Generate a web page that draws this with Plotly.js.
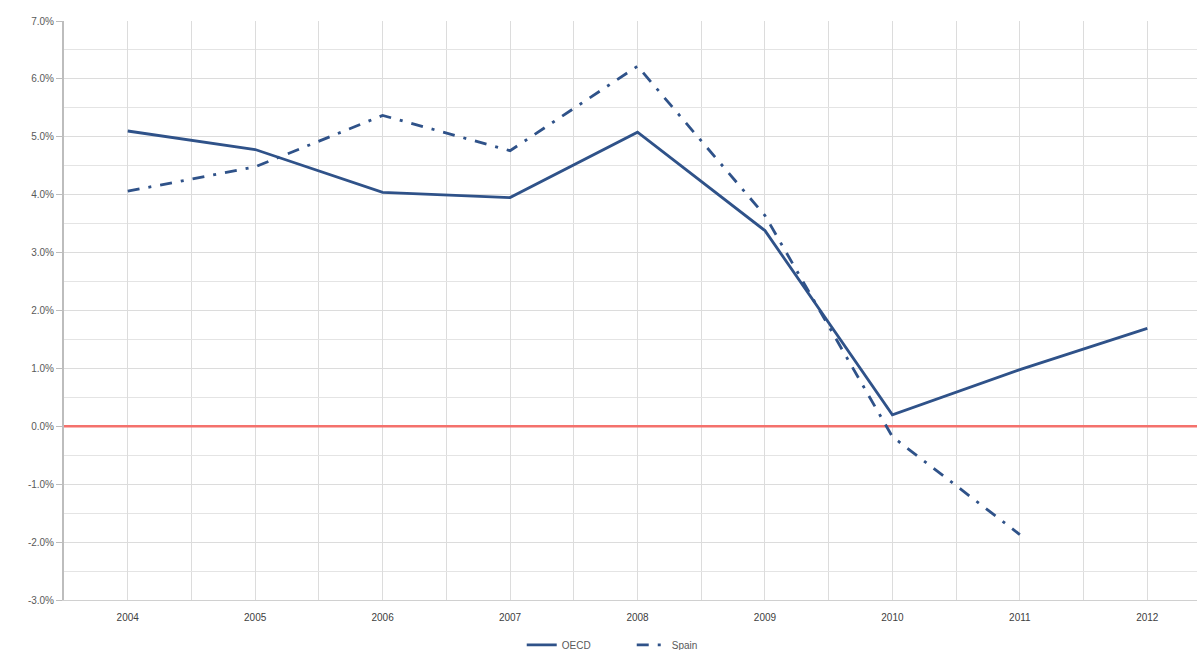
<!DOCTYPE html>
<html>
<head>
<meta charset="utf-8">
<script src="https://cdn.plot.ly/plotly-3.0.1.min.js"></script>
<style>html,body{margin:0;padding:0;background:#fff;}#chart{width:1197px;height:650px;}</style>
</head>
<body>
<div id="chart"></div>
<script>
const years = [2004, 2005, 2006, 2007, 2008, 2009, 2010, 2011, 2012];
const oecd = [5.10, 4.78, 4.04, 3.95, 5.08, 3.38, 0.20, 0.98, 1.69];
const spainYears = [2004, 2005, 2006, 2007, 2008, 2009, 2010, 2011];
const spain = [4.06, 4.48, 5.37, 4.76, 6.22, 3.64, -0.18, -1.87];
const yTicks = [-3, -2, -1, 0, 1, 2, 3, 4, 5, 6, 7];
const zeroRange = [2003.5, 2012.39];

const lineColor = '#2f5289';
const traces = [
  {x: zeroRange, y: [0, 0], type: 'scatter', mode: 'lines', showlegend: false, hoverinfo: 'skip',
   line: {color: '#f4716c', width: 2.5}},
  {x: years, y: oecd, name: 'OECD', type: 'scatter', mode: 'lines',
   line: {color: lineColor, width: 2.8}},
  {x: spainYears, y: spain, name: 'Spain', type: 'scatter', mode: 'lines',
   line: {color: lineColor, width: 2.8, dash: '12px,9px,3px,9px'}}
];

const layout = {
  width: 1197, height: 650,
  margin: {l: 64, r: 0, t: 21, b: 50},
  paper_bgcolor: '#fff', plot_bgcolor: '#fff',
  font: {family: 'Liberation Sans, Arial, sans-serif', size: 10, color: '#595959'},
  showlegend: true,
  legend: {orientation: 'h', x: 0.404, xanchor: 'left', yref: 'container', y: 0.008, yanchor: 'middle',
           font: {size: 10, color: '#595959'}, tracegroupgap: 0, entrywidth: 65},
  xaxis: {
    range: zeroRange, tickvals: years, ticktext: years.map(String),
    showgrid: true, gridcolor: '#dcdcdc', gridwidth: 1,
    minor: {dtick: 0.5, tick0: 2003.5, showgrid: true, gridcolor: '#dcdcdc', gridwidth: 1},
    zeroline: false, showline: true, linecolor: '#d0d0d0', linewidth: 1,
    ticks: 'outside', ticklen: 8, tickcolor: 'rgba(0,0,0,0)',
    tickfont: {size: 10, color: '#404040'}
  },
  yaxis: {
    range: [-3, 7], tickvals: yTicks, ticktext: yTicks.map(v => v.toFixed(1) + '%'),
    showgrid: true, gridcolor: '#dcdcdc', gridwidth: 1,
    minor: {dtick: 0.5, tick0: -3, showgrid: true, gridcolor: '#e4e4e4', gridwidth: 1},
    zeroline: false, showline: true, linecolor: '#bdbdbd', linewidth: 2,
    ticks: 'outside', ticklen: 6, tickcolor: '#bdbdbd', tickwidth: 1,
    tickfont: {size: 10, color: '#595959'}
  }
};

Plotly.newPlot('chart', traces, layout, {displayModeBar: false, staticPlot: true});
</script>
</body>
</html>
